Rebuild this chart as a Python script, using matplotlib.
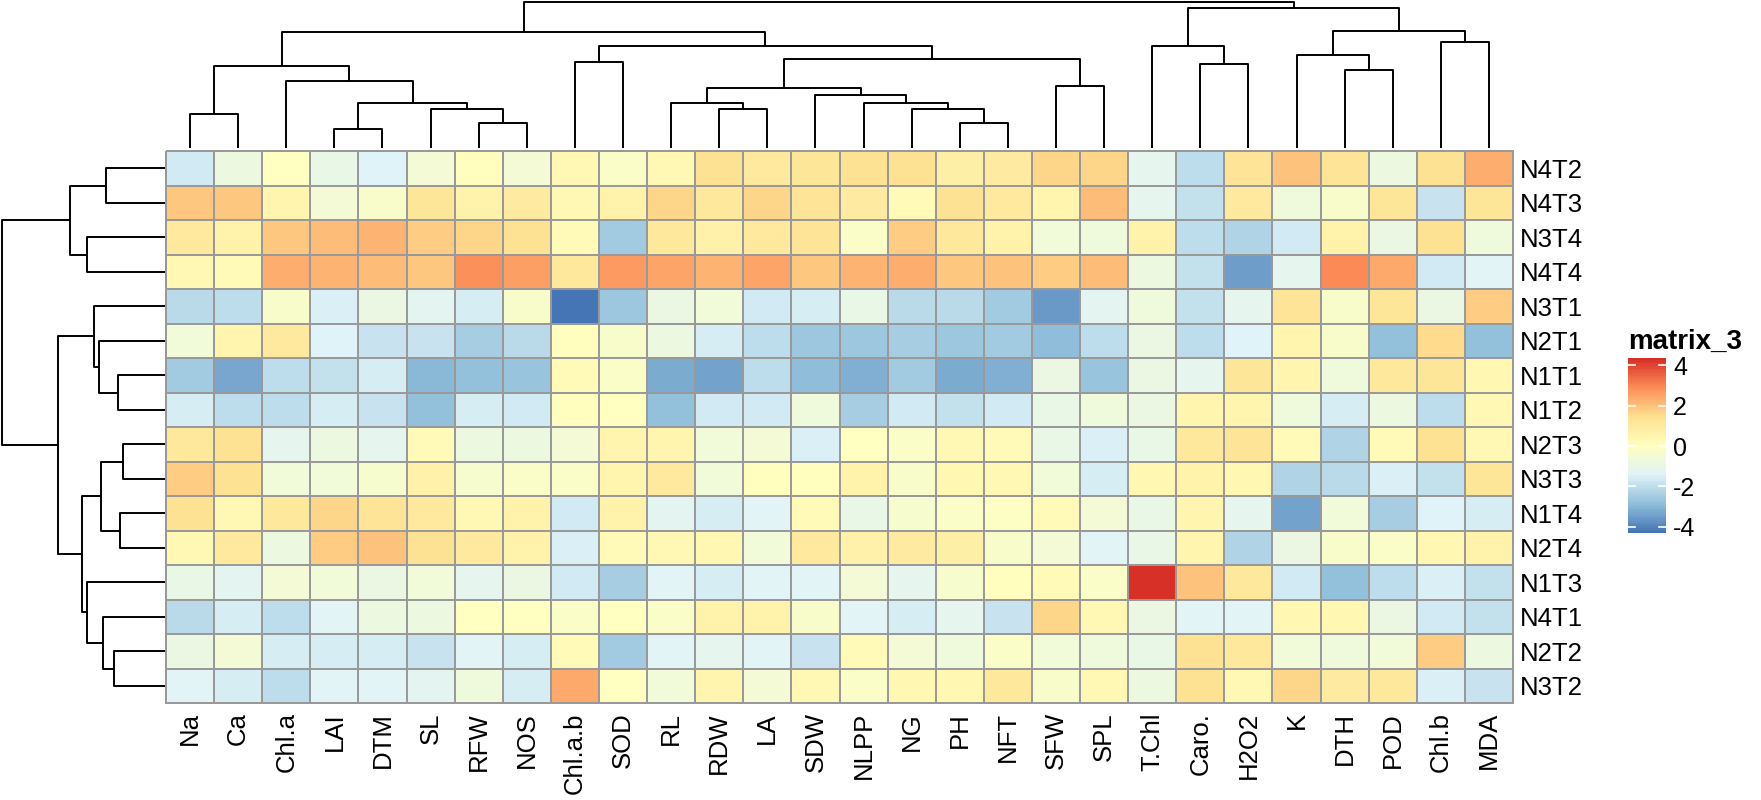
import numpy as np
import matplotlib
matplotlib.use('Agg')
import matplotlib.pyplot as plt
from matplotlib.colors import LinearSegmentedColormap

plt.rcParams['font.family'] = ['Liberation Sans', 'DejaVu Sans']
plt.rcParams['axes.unicode_minus'] = False

# column / row order as shown (already clustered)
col_labels = ['Na', 'Ca', 'Chl.a', 'LAI', 'DTM', 'SL', 'RFW', 'NOS', 'Chl.a.b', 'SOD',
              'RL', 'RDW', 'LA', 'SDW', 'NLPP', 'NG', 'PH', 'NFT', 'SFW', 'SPL',
              'T.Chl', 'Caro.', 'H2O2', 'K', 'DTH', 'POD', 'Chl.b', 'MDA']
row_labels = ['N4T2', 'N4T3', 'N3T4', 'N4T4', 'N3T1', 'N2T1', 'N1T1', 'N1T2',
              'N2T3', 'N3T3', 'N1T4', 'N2T4', 'N1T3', 'N4T1', 'N2T2', 'N3T2']

# scaled values, one list per row
n4t2 = [-1.7, -0.8, 0.0, -1.0, -1.4, -0.5, 0.1, -0.5, 0.3, -0.2, 0.3, 1.4, 1.0, 1.2, 1.4, 1.4, 0.8, 0.9, 1.6, 1.6, -1.1, -2.0, 1.3, 2.0, 1.3, -0.8, 1.4, 2.3]
n4t3 = [1.9, 1.9, 0.5, -0.5, -0.3, 1.2, 0.6, 0.9, 0.3, 0.6, 1.6, 1.1, 1.6, 1.3, 0.9, 0.2, 1.4, 1.0, 0.5, 2.1, -1.1, -1.9, 1.0, -0.7, -0.3, 1.2, -1.8, 1.2]
n3t4 = [1.0, 0.6, 1.9, 2.1, 2.2, 1.8, 1.6, 1.4, 0.2, -2.5, 1.1, 0.7, 1.0, 1.3, -0.2, 1.8, 1.1, 0.6, -0.6, -0.7, 0.6, -2.0, -2.3, -1.7, 0.6, -0.9, 1.4, -0.7]
n4t4 = [0.3, 0.2, 2.3, 2.2, 2.1, 1.9, 2.8, 2.6, 1.1, 2.7, 2.5, 2.2, 2.5, 1.9, 2.2, 2.3, 1.9, 2.0, 1.8, 2.1, -0.8, -1.9, -3.5, -1.1, 2.9, 2.4, -1.7, -1.3]
n3t1 = [-2.1, -2.0, -0.3, -1.5, -0.9, -1.2, -1.6, -0.3, -4.3, -2.6, -0.9, -0.6, -1.7, -1.6, -1.0, -2.1, -2.1, -2.5, -3.6, -1.2, -0.7, -1.9, -1.1, 1.3, -0.3, 1.2, -0.9, 1.8]
n2t1 = [-0.6, 0.5, 1.0, -1.4, -1.8, -1.8, -2.4, -2.1, 0.1, -0.3, -0.8, -1.6, -2.0, -2.6, -2.6, -2.4, -2.6, -2.5, -2.9, -2.0, -0.9, -2.0, -1.4, 0.5, -0.3, -2.8, 1.5, -2.8]
n1t1 = [-2.5, -3.3, -2.0, -1.9, -1.6, -3.0, -2.8, -2.7, 0.2, -0.2, -3.2, -3.4, -2.0, -2.9, -3.1, -2.5, -3.2, -3.1, -0.9, -2.7, -0.9, -1.1, 1.2, 0.5, -0.7, 1.1, 1.2, 0.4]
n1t2 = [-1.6, -2.0, -2.0, -1.6, -1.8, -2.8, -1.6, -1.7, 0.1, 0.0, -2.8, -1.7, -1.7, -0.7, -2.4, -1.7, -1.9, -1.7, -1.0, -0.7, -0.9, 0.5, 0.5, -0.7, -1.6, -0.8, -2.0, 0.3]
n2t3 = [1.1, 1.4, -1.1, -0.8, -1.1, 0.2, -0.8, -0.8, -0.5, 0.5, 0.5, -0.6, -0.5, -1.5, 0.0, -0.2, 0.3, 0.2, -1.0, -1.5, -1.0, 1.1, 1.3, 0.2, -2.3, 0.2, 1.4, 0.3]
n3t3 = [1.8, 1.4, -0.6, -0.6, -0.4, 0.7, -0.4, -0.2, -0.2, 0.5, 1.0, -0.6, 0.1, 0.1, 0.6, -0.3, 0.4, 0.3, -0.6, -1.6, 0.4, 0.6, 0.4, -2.3, -2.1, -1.5, -1.9, 1.2]
n1t4 = [1.4, 0.3, 1.1, 1.6, 1.3, 1.0, 0.3, 0.6, -1.7, 0.6, -1.2, -1.6, -1.3, 0.2, -1.0, -0.4, -0.2, -0.1, 0.2, -0.5, -1.0, 0.5, -1.1, -3.4, -0.6, -2.4, -1.4, -1.6]
n2t4 = [0.3, 1.0, -0.8, 1.8, 2.0, 1.4, 1.0, 0.6, -1.5, 0.2, 0.3, 0.4, -0.6, 1.0, 0.7, 0.9, 0.8, -0.3, -0.5, -1.3, -1.0, 0.5, -2.3, -0.9, -0.3, -0.2, 0.4, 0.6]
n1t3 = [-1.0, -1.2, -0.5, -0.6, -0.9, -0.6, -1.1, -0.9, -1.7, -2.4, -1.3, -1.6, -1.3, -1.3, -0.5, -1.1, -0.4, 0.1, 0.2, -0.2, 4.35, 2.0, 1.1, -1.7, -2.8, -2.0, -1.5, -1.9]
n4t1 = [-2.1, -1.6, -2.0, -1.3, -0.8, -0.8, 0.0, 0.0, -0.2, 0.0, -0.2, 0.6, 0.6, -0.3, -1.3, -1.6, -1.1, -1.8, 1.6, 0.3, -0.9, -1.3, -1.3, 0.4, 0.4, -0.9, -1.7, -1.9]
n2t2 = [-0.9, -0.5, -1.6, -1.6, -1.6, -1.8, -1.3, -1.6, 0.2, -2.5, -1.3, -1.1, -1.3, -1.8, 0.2, -0.5, -0.7, -0.2, -0.6, -0.7, -1.0, 1.4, 1.1, -0.6, -0.7, -0.6, 1.8, -0.8]
n3t2 = [-1.3, -1.6, -2.0, -1.3, -1.3, -1.2, -0.7, -1.6, 2.4, 0.0, -0.6, 0.5, -0.5, 0.3, -0.2, 0.4, 0.4, 1.1, -0.3, 0.3, -0.8, 1.4, 0.3, 1.6, 0.9, 1.1, -1.5, -1.8]

values = np.array([n4t2, n4t3, n3t4, n4t4, n3t1, n2t1, n1t1, n1t2,
                   n2t3, n3t3, n1t4, n2t4, n1t3, n4t1, n2t2, n3t2])

# tree merges: (child a, child b, height); leaves are 0..n-1, new nodes n, n+1, ...
col_merges = [(3, 4, 19), (6, 7, 25), (16, 17, 25), (0, 1, 34), (5, 29, 39),
              (15, 30, 39), (11, 12, 39), (28, 32, 45), (14, 33, 45), (10, 34, 45),
              (13, 36, 53), (37, 38, 60), (18, 19, 62), (2, 35, 67), (24, 25, 78),
              (31, 41, 82), (21, 22, 84), (8, 9, 86), (39, 40, 89), (23, 42, 93),
              (45, 46, 102), (20, 44, 102), (26, 27, 106), (43, 48, 116),
              (47, 50, 117), (49, 52, 140), (51, 53, 146)]
row_merges = [(8, 9, 42), (10, 11, 45), (6, 7, 47), (14, 15, 51.5), (0, 1, 59),
              (13, 19, 62), (16, 17, 64), (5, 18, 66), (4, 23, 71), (2, 3, 78),
              (12, 21, 78), (22, 26, 83), (20, 25, 95), (24, 27, 107), (28, 29, 163)]

colors = ['#4575B4', '#91BFDB', '#E0F3F8', '#FFFFBF', '#FEE090', '#FC8D59', '#D73027']
cmap = LinearSegmentedColormap.from_list('rdylbu_r', colors, N=100)

W, H = 1761, 800


def box(x0, y0, x1, y1):
    return [x0 / W, 1 - y1 / H, (x1 - x0) / W, (y1 - y0) / H]


def draw_tree(ax, merges, n, side):
    pos = {i: i + 0.5 for i in range(n)}
    hgt = {i: 0.0 for i in range(n)}
    for k, (a, b, h) in enumerate(merges):
        xs = [pos[a], pos[a], pos[b], pos[b]]
        ys = [hgt[a], h, h, hgt[b]]
        if side == 'top':
            ax.plot(xs, ys, color='black', lw=1.4)
        else:
            ax.plot(ys, xs, color='black', lw=1.4)
        pos[n + k] = (pos[a] + pos[b]) / 2
        hgt[n + k] = h


fig = plt.figure(figsize=(W / 100, H / 100), dpi=100)

# ---- heatmap
ax = fig.add_axes(box(166, 151, 1513, 703))
mesh = ax.pcolormesh(values, cmap=cmap, vmin=values.min(), vmax=values.max(),
                     edgecolors='#999999', linewidth=1.2)
mesh.set_clip_on(False)
ax.set_xlim(0, len(col_labels))
ax.set_ylim(len(row_labels), 0)
ax.set_xticks(np.arange(len(col_labels)) + 0.5)
ax.set_xticklabels(col_labels, rotation=90, fontsize=18.5)
ax.set_yticks(np.arange(len(row_labels)) + 0.5)
ax.set_yticklabels(row_labels, fontsize=18.5)
ax.yaxis.tick_right()
ax.tick_params(axis='x', length=0, pad=6.5)
ax.tick_params(axis='y', length=0, pad=5)
for s in ax.spines.values():
    s.set_visible(False)

# ---- dendrograms
tax = fig.add_axes(box(166, 0, 1513, 148))
draw_tree(tax, col_merges, len(col_labels), 'top')
tax.set_xlim(0, len(col_labels))
tax.set_ylim(0, 148)
tax.axis('off')

lax = fig.add_axes(box(0, 151, 165, 703))
draw_tree(lax, row_merges, len(row_labels), 'left')
lax.set_xlim(165, 0)
lax.set_ylim(len(row_labels), 0)
lax.axis('off')

# ---- legend
cax = fig.add_axes(box(1628, 358, 1666, 533))
cb = fig.colorbar(mesh, cax=cax, ticks=[-4, -2, 0, 2, 4])
cb.outline.set_visible(False)
cax.tick_params(length=0, labelsize=18, pad=5)
for t in [-4, -2, 0, 2, 4]:
    cax.plot([0, 0.18], [t, t], color='white', lw=1.2, transform=cax.get_yaxis_transform())
    cax.plot([0.82, 1], [t, t], color='white', lw=1.2, transform=cax.get_yaxis_transform())
fig.text(1628 / W, 1 - 349 / H, 'matrix_3', fontsize=20, fontweight='bold', va='baseline')

fig.savefig('out.png', dpi=100)
